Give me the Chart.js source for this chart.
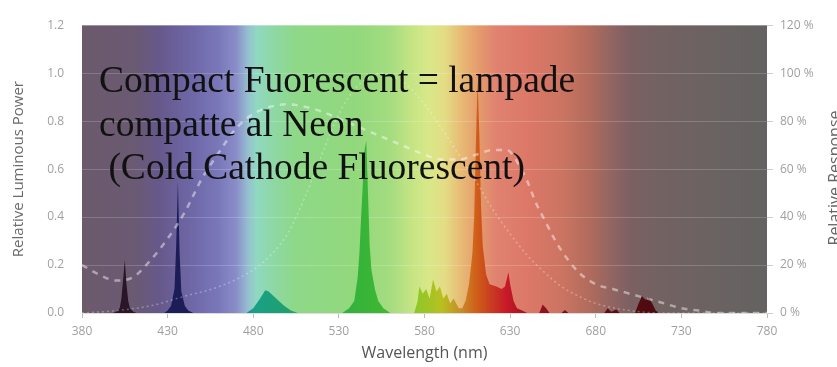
<!DOCTYPE html>
<html>
<head>
<meta charset="utf-8">
<script src="https://cdn.jsdelivr.net/npm/chart.js@4.4.1/dist/chart.umd.min.js"></script>
<style>
html,body{margin:0;padding:0;background:#fff;}
#wrap{position:relative;width:837px;height:367px;}
</style>
</head>
<body>
<div id="wrap"><canvas id="spettro"></canvas></div>
<script>
// spettro della lampada: lunghezza d'onda (nm) e potenza relativa
var specWl = [380,398,400,402,403,404,405,406,407,408,410,412,
  428,430,432,434,435,436,437,438,440,442,445,
  476,480,484,487,489,492,495,498,502,506,
  532,536,539,541,542,543,545,546,547,548,549,551,553,556,560,
  574,576,577,579,581,583,585,587,589,591,593,595,597,600,602,604,606,608,609,610,611,612,613,614,616,618,622,625,627,629,630,632,634,637,640,
  647,649,651,653,660,662,664,685,687,689,692,694,703,705,707,709,711,713,715,717,780];
var specPower = [0,0,0.005,0.02,0.06,0.14,0.22,0.12,0.05,0.02,0.005,0,
  0,0.01,0.03,0.1,0.28,0.55,0.25,0.09,0.03,0.01,0,
  0,0.02,0.06,0.095,0.09,0.07,0.05,0.03,0.01,0,
  0,0.02,0.05,0.15,0.25,0.4,0.68,0.72,0.5,0.28,0.18,0.1,0.05,0.02,0,
  0,0.05,0.11,0.08,0.1,0.06,0.14,0.09,0.11,0.06,0.08,0.04,0.06,0.02,0.02,0.05,0.12,0.25,0.4,0.7,0.97,0.75,0.45,0.28,0.16,0.12,0.11,0.1,0.11,0.17,0.12,0.05,0.02,0.01,0,
  0,0.035,0.02,0,0,0.012,0,0,0.02,0.005,0.015,0,0,0.04,0.07,0.055,0.065,0.04,0.01,0,0];

// curva tratteggiata larga (%)
var broadWl = [380,390,400,410,420,430,440,450,460,470,480,490,500,510,520,530,540,550,560,570,
  580,590,600,610,620,628,635,640,645,650,655,660,670,680,690,700,710,720,730,740,750,780];
var broadResp = [20,16,13.5,15,22,31,42,56,67,77,83,86,87,86,84,81,78,75,72,69,
  66,64,64,66,68,68,62,55,46,39,32,26,17,12,10,8,6,4,2,1,0,0];

// sensibilita' dell'occhio (%)
var eyeWl = [380,400,420,440,460,480,490,500,510,520,530,540,550,555,560,570,580,590,600,610,
  620,630,640,650,660,670,680,700,720,780];
var eyeResp = [0,1,3,7,11,18,24,33,48,66,83,94,99,100,99,95,87,77,66,55,
  43,33,24,17,11,7,4,1,0,0];

var wlTicks = [380,430,480,530,580,630,680,730,780];
var noteLines = ['Compact Fuorescent = lampade', 'compatte al Neon', ' (Cold Cathode Fluorescent)'];

// colori
var bgStops = [[380,'#6c5a6c'],[410,'#6a5a72'],[425,'#66588a'],[445,'#6f68a8'],[460,'#7a78ba'],[470,'#8a8cc8'],
  [477,'#96c0d0'],[482,'#90d8c0'],[492,'#8ed8a4'],[505,'#8ed888'],[540,'#92d87c'],[560,'#a4dc80'],[572,'#c4e484'],
  [582,'#d8e888'],[592,'#e4dc84'],[602,'#e8b874'],[612,'#e49a6c'],[622,'#e08270'],[640,'#dc7868'],[660,'#cc7462'],
  [675,'#b46c5c'],[690,'#906462'],[700,'#7c6062'],[715,'#736262'],[780,'#646262']];
var fillStops = [[380,'#2a1626'],[415,'#2a1626'],[425,'#1c1c58'],[445,'#1c1c58'],[470,'#1a7a90'],[480,'#18a088'],
  [500,'#20a070'],[530,'#30b040'],[560,'#40b830'],[575,'#8cc828'],[590,'#b8c020'],[602,'#c88828'],[610,'#d06018'],
  [618,'#c84020'],[628,'#c81828'],[640,'#a01420'],[660,'#7a1018'],[690,'#5a0c12'],[720,'#4a0a10'],[780,'#4a0a10']];

function pts(xs, ys) {
  return xs.map(function (v, i) { return {x: v, y: ys[i]}; });
}

function gradiente(ctx, scale, area, stops) {
  var g = ctx.createLinearGradient(area.left, 0, area.right, 0);
  var w = area.right - area.left;
  stops.forEach(function (s) {
    var p = (scale.getPixelForValue(s[0]) - area.left) / w;
    g.addColorStop(Math.min(1, Math.max(0, p)), s[1]);
  });
  return g;
}

var decoro = {
  id: 'decoro',
  beforeDraw: function (chart) {
    var a = chart.chartArea, ctx = chart.ctx;
    ctx.save();
    ctx.fillStyle = gradiente(ctx, chart.scales.x, a, bgStops);
    ctx.fillRect(a.left, a.top, a.right - a.left, a.bottom - a.top);
    ctx.restore();
  },
  afterDraw: function (chart) {
    var ctx = chart.ctx;
    ctx.save();
    ctx.fillStyle = '#111';
    ctx.font = '37.5px "Liberation Serif"';
    ctx.textBaseline = 'alphabetic';
    ctx.textAlign = 'left';
    noteLines.forEach(function (t, i) {
      ctx.fillText(t, 99, 92 + i * 43.5);
    });
    // titolo asse destro
    ctx.translate(840, 178);
    ctx.rotate(-Math.PI / 2);
    ctx.font = '16px "Open Sans"';
    ctx.fillStyle = '#666';
    ctx.textAlign = 'center';
    ctx.fillText('Relative Response', 0, 0);
    ctx.restore();
  }
};

var ctx = document.getElementById('spettro').getContext('2d');
var chart = new Chart(ctx, {
  type: 'line',
  data: {
    datasets: [
      {
        label: 'Broad response',
        data: pts(broadWl, broadResp),
        yAxisID: 'y2',
        borderColor: 'rgba(255,255,255,0.45)',
        borderWidth: 2.5,
        borderDash: [6, 6],
        pointRadius: 0,
        fill: false,
        cubicInterpolationMode: 'monotone'
      },
      {
        label: 'Eye response',
        data: pts(eyeWl, eyeResp),
        yAxisID: 'y2',
        borderColor: 'rgba(255,255,255,0.3)',
        borderWidth: 1.5,
        borderDash: [2, 3],
        pointRadius: 0,
        fill: false,
        cubicInterpolationMode: 'monotone'
      },
      {
        label: 'Relative Luminous Power',
        data: pts(specWl, specPower),
        yAxisID: 'y',
        borderWidth: 0,
        pointRadius: 0,
        fill: 'origin',
        tension: 0,
        backgroundColor: function (c) {
          var ch = c.chart;
          if (!ch.chartArea) return '#333';
          return gradiente(ch.ctx, ch.scales.x, ch.chartArea, fillStops);
        }
      }
    ]
  },
  options: {
    responsive: true,
    maintainAspectRatio: false,
    animation: false,
    layout: {padding: {top: 12, left: 0, right: 0, bottom: 0}},
    plugins: {legend: {display: false}, tooltip: {enabled: false}},
    scales: {
      x: {
        type: 'linear',
        min: 380,
        max: 780,
        afterBuildTicks: function (s) { s.ticks = wlTicks.map(function (v) { return {value: v}; }); },
        afterFit: function (s) { s.height = 54; },
        grid: {drawOnChartArea: false, tickLength: 5, tickColor: '#bbb'},
        border: {color: '#ddd'},
        ticks: {color: '#a0a0a0', font: {family: 'Open Sans', size: 12}, padding: 6, maxRotation: 0},
        title: {display: true, text: 'Wavelength (nm)', color: '#555', font: {family: 'Open Sans', size: 16}, padding: {top: 0, bottom: 4}}
      },
      y: {
        position: 'left',
        min: 0,
        max: 1.2,
        afterFit: function (s) { s.width = 82; },
        grid: {color: 'rgba(255,255,255,0.18)', drawTicks: false},
        border: {display: false},
        ticks: {stepSize: 0.2, color: '#a0a0a0', font: {family: 'Open Sans', size: 12}, padding: 18,
          callback: function (v) { return v.toFixed(1); }},
        title: {display: true, text: 'Relative Luminous Power', color: '#6a6a6a', font: {family: 'Open Sans', size: 15}, padding: {top: 10}}
      },
      y2: {
        position: 'right',
        min: 0,
        max: 120,
        afterFit: function (s) { s.width = 70; },
        grid: {drawOnChartArea: false, tickLength: 6, tickColor: '#ccc'},
        border: {display: false},
        ticks: {stepSize: 20, color: '#a0a0a0', font: {family: 'Open Sans', size: 12}, padding: 7,
          callback: function (v) { return v + ' %'; }}
      }
    }
  },
  plugins: [decoro]
});
</script>
</body>
</html>
